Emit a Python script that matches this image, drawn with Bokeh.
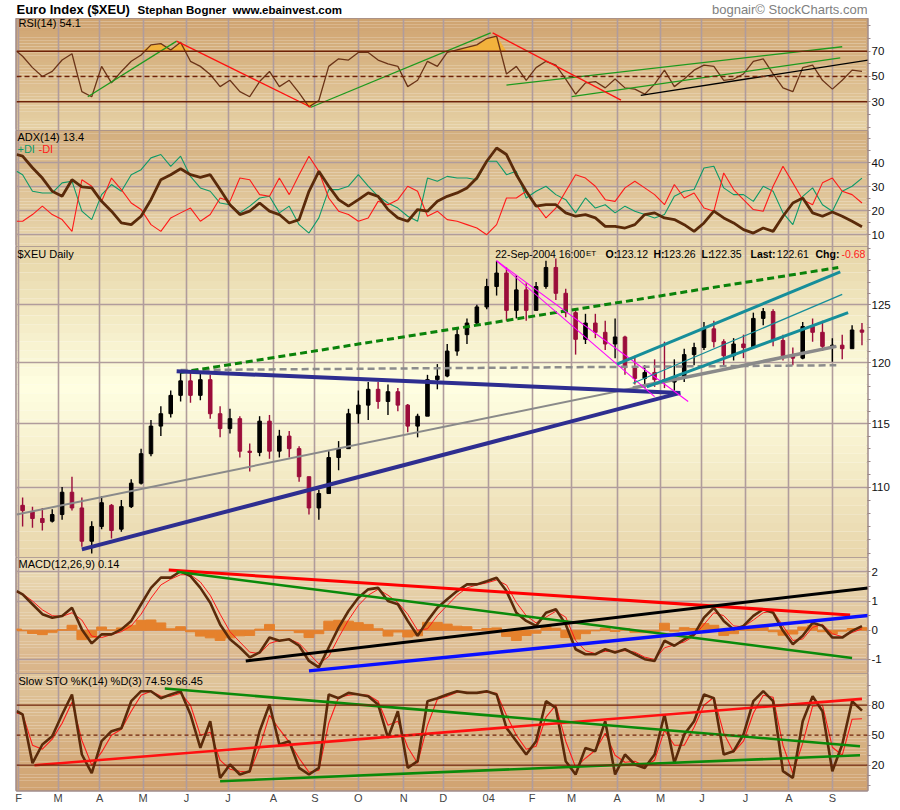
import numpy as np
import pandas as pd
from bokeh.plotting import figure
from bokeh.layouts import column
from bokeh.models import Range1d, FixedTicker, Span, BoxAnnotation, Label
from bokeh.embed import file_html
from bokeh.resources import INLINE

# ---------------- data (weekly samples) ----------------
START = "2003-01-31"
week_dates = list(pd.date_range("2003-02-05", periods=86, freq="7D"))   # Wednesdays
line_dates = [pd.Timestamp(START)] + week_dates

month_starts = list(pd.date_range("2003-02-01", "2004-09-30", freq="BMS"))
month_labels = ["F", "M", "A", "M", "J", "J", "A", "S", "O", "N", "D", "04",
                "F", "M", "A", "M", "J", "J", "A", "S"]

price_open = [108.6, 108.1, 107.6, 107.4, 107.9, 109.6, 108.4, 105.9, 107.0, 108.6,
              106.8, 108.5, 110.3, 112.6, 114.8, 115.8, 117.3, 118.5, 117.3, 118.6,
              115.8, 114.6, 115.4, 112.8, 112.7, 115.2, 112.8, 114.0, 113.0, 110.8,
              108.4, 109.5, 112.3, 113.0, 115.8, 116.5, 117.8, 116.8, 117.6, 116.5,
              114.8, 115.6, 118.6, 118.9, 121.0, 122.4, 123.4, 124.8, 126.6, 127.8,
              124.5, 126.3, 124.5, 126.6, 128.3, 126.0, 124.3, 122.0, 123.4, 122.6,
              121.6, 122.2, 119.6, 118.7, 119.2, 118.6, 118.4, 118.8, 120.7, 121.3,
              122.9, 121.8, 120.6, 121.6, 121.3, 123.8, 124.4, 121.9, 120.6, 120.4,
              123.1, 122.6, 121.4, 121.5, 121.2, 122.8]
price_high = [109.2, 108.5, 108.4, 108.3, 110.0, 110.8, 109.2, 107.4, 109.3, 108.7,
              109.0, 110.6, 113.0, 115.3, 116.4, 117.7, 119.3, 119.2, 119.3, 119.0,
              116.4, 116.2, 115.6, 113.4, 115.6, 115.7, 114.5, 114.4, 113.2, 110.8,
              109.8, 112.8, 113.6, 116.2, 117.7, 118.4, 118.4, 118.2, 117.9, 116.6,
              115.8, 119.0, 119.9, 121.6, 122.9, 123.8, 125.0, 127.3, 128.9, 128.3,
              127.6, 126.9, 127.0, 128.9, 129.1, 126.4, 124.5, 124.2, 124.2, 123.6,
              123.8, 122.3, 120.6, 119.8, 120.3, 121.8, 120.3, 121.2, 121.7, 123.5,
              123.6, 122.0, 122.1, 122.4, 124.3, 124.7, 124.6, 122.4, 121.3, 123.5,
              123.8, 123.6, 122.1, 122.4, 123.2, 123.4]
price_low = [107.0, 106.9, 106.7, 107.3, 107.5, 108.2, 105.5, 105.0, 106.8, 106.1,
             106.6, 108.4, 110.2, 112.4, 114.0, 115.5, 116.8, 116.7, 116.9, 115.4,
             113.9, 114.2, 112.3, 111.2, 112.4, 112.2, 112.3, 112.3, 110.4, 107.9,
             107.5, 109.5, 111.3, 113.0, 115.0, 115.3, 116.2, 115.7, 116.0, 114.3,
             113.9, 115.8, 117.8, 118.8, 120.6, 121.6, 123.2, 124.6, 125.8, 123.6,
             123.8, 123.6, 124.6, 126.4, 125.4, 123.9, 120.7, 121.6, 122.1, 121.1,
             120.4, 119.0, 118.2, 117.9, 118.0, 117.9, 117.7, 118.4, 119.8, 121.1,
             121.3, 119.7, 120.2, 120.4, 121.7, 123.2, 121.4, 120.2, 119.8, 120.3,
             121.8, 121.0, 120.1, 120.3, 121.3, 121.5]
price_close = [108.2, 107.6, 107.3, 107.9, 109.6, 108.4, 105.9, 107.0, 108.8, 106.7,
               108.5, 110.3, 112.6, 114.8, 115.8, 117.3, 118.5, 117.3, 118.6, 115.8,
               114.6, 115.4, 112.8, 112.7, 115.2, 112.8, 114.0, 113.0, 110.8, 108.4,
               109.5, 112.3, 113.0, 115.8, 116.5, 117.8, 116.8, 117.6, 116.5, 114.8,
               115.6, 118.6, 118.9, 121.0, 122.4, 123.4, 124.8, 126.6, 127.8, 124.5,
               126.3, 124.5, 126.6, 128.3, 126.0, 124.3, 122.0, 123.4, 122.6, 121.6,
               122.2, 119.6, 118.7, 119.2, 118.6, 118.4, 118.8, 120.7, 121.3, 122.9,
               121.8, 120.6, 121.6, 121.3, 123.8, 124.4, 121.9, 120.6, 120.4, 123.1,
               122.6, 121.4, 121.5, 121.2, 122.8, 122.61]

rsi = [70, 66, 57, 50, 54, 63, 68, 38, 34, 58, 45, 54, 62, 67, 75, 76, 71, 77, 62, 58,
       51.6, 42, 47, 38, 34, 46, 54, 42, 47, 37, 26, 31, 58, 64, 63, 69, 69, 63, 60, 58,
       42, 47, 62, 58, 69, 71, 73, 75, 80, 82, 52, 58, 47, 57, 62, 59, 48, 36, 45, 46,
       41, 48, 41, 40, 36, 44, 55, 42, 48, 55, 59, 58, 47, 48, 52, 62, 64, 52, 41, 38,
       57, 59, 47, 40, 47, 55, 54.1]

adx = [43.5, 42.8, 38, 33.7, 28.2, 26.1, 33, 30, 29.6, 24, 19.9, 15, 14.3, 17.8, 24.7,
       33, 35.1, 37.6, 35.1, 34, 35.1, 28.9, 22.6, 18.5, 19.9, 23.3, 19.9, 18.5, 15, 16.4,
       28.2, 36.5, 30.3, 24.7, 22, 24.7, 27.5, 26.1, 20.6, 17.1, 15.7, 20.6, 19.9, 24,
       26.1, 27.5, 29.6, 33.7, 40.7, 46.2, 43.5, 35.1, 28.2, 22, 22.6, 22.6, 19.2, 17.8,
       18.5, 17.1, 13.6, 13.6, 12.9, 14.3, 18.5, 19.2, 17.1, 16.4, 14.3, 11.5, 15, 19.9,
       17.1, 15, 12.2, 10.8, 12.9, 11.5, 17.8, 23.3, 25.4, 19.2, 17.8, 19.6, 17.8, 15.7,
       13.4]
plus_di = [36.5, 35.1, 28.2, 27.5, 27.5, 31.7, 32.4, 19.9, 16.4, 26.8, 31, 28.2, 35.1,
           37.2, 42.1, 43.5, 38.6, 42.8, 34.4, 29.6, 28.2, 23.3, 22.6, 19.2, 22, 25.4,
           26.1, 19.2, 22, 14.3, 10.8, 17.1, 28.9, 28.9, 30.3, 35.1, 30.3, 26.1, 23.3,
           21.2, 17.8, 15.7, 33.7, 32.4, 34.4, 33.7, 33.7, 33, 40.7, 40.7, 35.1, 36.5,
           25.4, 28.2, 30.3, 26.8, 24.7, 19.2, 25.4, 21.2, 22.6, 19.2, 22, 19.9, 18.5,
           17.1, 18.5, 26.1, 28.2, 28.9, 37.9, 38.6, 29.6, 26.8, 26.8, 24, 30.3, 28.2,
           19.2, 14.3, 26.1, 29.6, 22.6, 19.9, 28.2, 30.3, 33.7]
minus_di = [15.7, 15.7, 18.5, 22, 18.5, 16.4, 11.5, 33, 30.3, 24, 33.7, 28.9, 23.3, 20.6,
            14.3, 11.5, 17.1, 19.2, 21.2, 15.7, 18.5, 25.4, 24, 33.7, 33, 26.8, 26.1,
            33.7, 26.8, 35.1, 42.8, 36.5, 25.4, 19.9, 18.5, 15.7, 17.1, 24, 22.6, 24.7,
            30.3, 28.2, 17.8, 19.9, 16.4, 15.7, 14.3, 12.9, 10.1, 14.3, 25.4, 25.4, 28.2,
            22.6, 17.1, 21.2, 28.2, 35.1, 33.7, 30.3, 24.7, 24, 29.6, 32.4, 29.6, 26.8,
            22.6, 31, 25.4, 27.5, 21.2, 19.9, 35.8, 28.9, 24.7, 20.6, 19.9, 30.3, 38.6,
            31.7, 24.7, 22.6, 31.7, 33.7, 28.2, 26.8, 23.3]

macd = [1.34, 1.23, 0.89, 0.55, 0.43, 0.49, 0.77, 0.03, -0.45, -0.14, -0.14, 0.03, 0.32,
        0.89, 1.45, 1.8, 1.8, 2.02, 1.85, 1.45, 0.94, 0.2, -0.31, -0.59, -0.93, -0.76,
        -0.25, -0.36, -0.31, -0.53, -1.05, -1.27, -0.59, 0.09, 0.66, 1.11, 1.4, 1.45, 1.0,
        0.89, 0.32, -0.19, 0.32, 0.77, 1.06, 1.34, 1.57, 1.57, 1.68, 1.8, 1.34, 0.6, 0.32,
        0.15, 0.6, 0.72, 0.2, -0.65, -0.82, -0.82, -0.65, -0.76, -0.65, -0.82, -0.99,
        -1.05, -0.36, -0.53, -0.31, -0.14, 0.43, 0.77, 0.32, 0.03, 0.15, 0.49, 0.72, 0.6,
        -0.02, -0.48, -0.19, 0.26, 0.15, -0.25, -0.25, -0.02, 0.14]
macd_signal = [1.3, 1.25, 1.0, 0.7, 0.5, 0.47, 0.6, 0.35, -0.2, -0.25, -0.15, -0.05, 0.15,
               0.55, 1.1, 1.55, 1.75, 1.9, 1.9, 1.65, 1.2, 0.55, -0.05, -0.4, -0.75, -0.8,
               -0.45, -0.35, -0.3, -0.45, -0.8, -1.15, -0.9, -0.25, 0.35, 0.85, 1.2, 1.4,
               1.2, 0.95, 0.55, 0.0, 0.05, 0.5, 0.85, 1.2, 1.45, 1.55, 1.62, 1.72, 1.55,
               0.95, 0.5, 0.25, 0.45, 0.65, 0.45, -0.35, -0.7, -0.8, -0.72, -0.72, -0.7,
               -0.75, -0.92, -1.0, -0.6, -0.5, -0.4, -0.2, 0.2, 0.6, 0.5, 0.15, 0.12, 0.35,
               0.6, 0.65, 0.15, -0.35, -0.3, 0.1, 0.2, -0.12, -0.22, -0.08, 0.05]

sto_k = [74, 70.7, 22, 40.7, 49, 70.7, 90.7, 30.7, 12, 44, 54, 57, 84, 94, 94, 87, 90.7,
         94, 70.7, 37.3, 64, 7.3, 20.7, 10.7, 14, 54, 80.7, 40.7, 44, 17.3, 10.7, 17.3,
         90.7, 87, 92.3, 90.7, 89, 80.7, 47.3, 74, 17.3, 24, 84, 87, 90.7, 94, 92.3, 92.3,
         94, 90.7, 57.3, 44, 30.7, 44, 84, 77.3, 24, 10.7, 37.3, 34, 64, 10.7, 30.7, 20.7,
         17.3, 30.7, 70.7, 22.3, 50.7, 64, 90.7, 87, 30.7, 34, 50.7, 84, 94, 84, 14, 7.3,
         64, 89, 74, 14, 40.7, 84, 74.59]
sto_d = [72, 71, 40, 36, 46, 62, 83, 45, 20, 33, 50, 56, 74, 90, 94, 89, 89, 92, 80, 50,
         53, 25, 16, 14, 13, 38, 70, 56, 43, 27, 13, 15, 62, 88, 90, 91, 90, 84, 60, 64,
         38, 22, 60, 86, 89, 93, 93, 92, 93, 92, 70, 50, 36, 39, 68, 80, 44, 18, 27, 35,
         52, 30, 23, 24, 19, 25, 55, 40, 40, 58, 80, 88, 52, 33, 44, 72, 90, 88, 40, 12,
         42, 79, 80, 38, 30, 66, 66.45]

# hand-drawn trend lines: (start date, start value, end date, end value)
rsi_green_tl = [("2003-03-24", 34, "2003-05-26", 78), ("2003-08-28", 25.7, "2004-01-02", 84.5),
                ("2004-01-14", 43.2, "2004-09-08", 73.5), ("2004-03-01", 34, "2004-09-07", 64.8)]
rsi_red_tl = [("2003-05-26", 78, "2003-08-28", 25.7), ("2004-01-05", 84.5, "2004-04-05", 31.3)]
rsi_black_tl = [("2004-04-19", 35, "2004-09-28", 63.2)]

price_navy_tl = [("2003-03-19", 105.3, "2004-05-17", 117.5), ("2003-05-26", 119.3, "2004-05-17", 117.5)]
price_gray_thin_tl = [("2003-01-31", 107.9, "2004-09-03", 121.4)]
price_gray_thick_tl = [("2004-04-13", 117.9, "2004-09-03", 121.4)]
price_gray_dash_tl = [("2003-05-28", 119.4, "2004-09-03", 119.8)]
price_green_dash_tl = [("2003-05-28", 119.2, "2004-09-06", 128.3)]
price_magenta_tl = [("2004-01-07", 128.9, "2004-05-21", 116.8), ("2004-01-07", 128.9, "2004-04-28", 117.2)]
price_teal_thick_tl = [("2004-04-01", 119.9, "2004-09-07", 127.9), ("2004-04-22", 118.0, "2004-09-13", 124.3)]
price_teal_thin_tl = [("2004-04-13", 118.3, "2004-09-08", 125.9)]

macd_red_tl = [("2003-05-20", 2.06, "2004-09-14", 0.52)]
macd_green_tl = [("2003-05-26", 2.0, "2004-09-15", -0.95)]
macd_black_tl = [("2003-07-14", -1.05, "2004-09-27", 1.45)]
macd_blue_tl = [("2003-08-27", -1.39, "2004-09-29", 0.52)]

sto_red_tl = [("2003-02-13", 20, "2004-09-22", 86.3)]
sto_green_tl = [("2003-05-16", 96.7, "2004-09-21", 39), ("2003-06-25", 4, "2004-09-21", 30)]

header_texts = ["Euro Index ($XEU)", "Stephan Bogner", "www.ebainvest.com"]
credit_text = "bognair\u00a9 StockCharts.com"

# ---------------- helpers ----------------
FONT = "Liberation Sans"
GRID = "#B09C9C"
BORDER = "#A08C8C"
BROWN = "#5A2A0A"


def bd(dates):
    d = np.array([np.datetime64(pd.Timestamp(t).date()) for t in dates], dtype="datetime64[D]")
    return np.busday_count(np.datetime64(START), d).astype(float)


lx = bd(line_dates)
bx = lx[1:]
month_x = bd(month_starts)
xr = Range1d(-0.09, 430.8)


def hex2rgb(h):
    return tuple(int(h[i:i + 2], 16) for i in (1, 3, 5))


def mix(stops, f):
    for (f0, c0), (f1, c1) in zip(stops[:-1], stops[1:]):
        if f0 <= f <= f1:
            t = 0 if f1 == f0 else (f - f0) / (f1 - f0)
            a, b = hex2rgb(c0), hex2rgb(c1)
            return "#%02x%02x%02x" % tuple(int(round(a[k] + (b[k] - a[k]) * t)) for k in range(3))
    return stops[-1][1]


def gradient(p, lo, hi, stops, n=36, log=False):
    edges = np.geomspace(hi, lo, n + 1) if log else np.linspace(hi, lo, n + 1)
    for k in range(n):
        c = mix(stops, (k + 0.5) / n)
        p.add_layout(BoxAnnotation(top=edges[k], bottom=edges[k + 1], fill_color=c, fill_alpha=1,
                                   line_alpha=0, level="image"))


def panel(h, lo, hi, yticks, minor, stops, top=0, bottom=0, log=False, ygrid=True):
    p = figure(frame_width=851, frame_height=h, x_range=xr, y_range=Range1d(lo, hi),
               y_axis_type="log" if log else "linear", y_axis_location="right",
               output_backend="svg", toolbar_location=None,
               min_border_left=16, min_border_right=26, min_border_top=top, min_border_bottom=bottom)
    p.outline_line_color = BORDER
    p.outline_line_width = 2.5
    p.background_fill_color = "white"
    p.border_fill_color = "white"
    gradient(p, lo, hi, stops, log=log)
    p.xgrid.ticker = FixedTicker(ticks=list(month_x))
    p.xgrid.grid_line_color = GRID
    p.xgrid.grid_line_width = 1.6
    if ygrid:
        p.ygrid.ticker = FixedTicker(ticks=yticks)
        p.ygrid.grid_line_color = GRID
        p.ygrid.grid_line_width = 1.6
    else:
        p.ygrid.grid_line_color = None
    p.xaxis.visible = False
    ax = p.yaxis[0]
    ax.ticker = FixedTicker(ticks=yticks, minor_ticks=minor)
    ax.major_label_overrides = {t: ("%g" % t) for t in yticks}
    ax.axis_line_color = None
    ax.major_tick_out = 3
    ax.major_tick_in = 0
    ax.minor_tick_out = 3
    ax.minor_tick_in = 0
    ax.major_tick_line_color = "#9A8888"
    ax.minor_tick_line_color = "#9A8888"
    ax.major_label_standoff = 1
    ax.major_label_text_font = FONT
    ax.major_label_text_font_size = "11.5px"
    ax.major_label_text_color = "#111111"
    return p


def tlines(p, lines, color, width, dash="solid"):
    if not lines:
        return
    x0 = bd([l[0] for l in lines])
    x1 = bd([l[2] for l in lines])
    p.segment(x0=x0, y0=[l[1] for l in lines], x1=x1, y1=[l[3] for l in lines],
              line_color=color, line_width=width, line_dash=dash)


def label(p, x, ydown, text, size="11px", color="black", bold=False, align="left"):
    p.add_layout(Label(x=x, y=p.frame_height - ydown, x_units="screen", y_units="screen", text=text,
                       text_font=FONT, text_font_size=size, text_color=color,
                       text_font_style="bold" if bold else "normal",
                       text_baseline="middle", text_align=align))


# ---------------- header strip ----------------
p0 = figure(frame_width=851, frame_height=18, x_range=Range1d(0, 851), y_range=Range1d(0, 18),
            output_backend="svg", toolbar_location=None, min_border_left=16, min_border_right=26,
            min_border_top=0, min_border_bottom=0)
p0.axis.visible = False
p0.grid.visible = False
p0.outline_line_color = None
p0.background_fill_color = "white"
p0.border_fill_color = "white"
for x, t, size, bold, color, align in (
        (0, header_texts[0], "13px", "bold", "black", "left"),
        (121, header_texts[1], "11.5px", "bold", "black", "left"),
        (216, header_texts[2], "11.5px", "bold", "black", "left"),
        (851, credit_text, "13px", "normal", "#808080", "right")):
    p0.add_layout(Label(x=x, y=9, x_units="screen", y_units="screen", text=t, text_font=FONT,
                        text_font_size=size, text_font_style=bold, text_color=color,
                        text_align=align, text_baseline="middle"))

# ---------------- RSI ----------------
p1 = panel(112, 7.3, 95.85, [30, 50, 70], [10, 20, 40, 60, 80, 90],
           [(0, "#CFA370"), (1, "#E6D1A5")], ygrid=False)
r = np.array(rsi, dtype=float)
p1.varea(x=lx, y1=np.full(len(r), 70.0), y2=np.maximum(r, 70), fill_color="#F2B23C")
p1.varea(x=lx, y1=np.minimum(r, 30), y2=np.full(len(r), 30.0), fill_color="#F2B23C")
for v, d in ((70, "solid"), (30, "solid"), (50, "dashed")):
    p1.add_layout(Span(location=v, dimension="width", line_color="#6E2208", line_width=1.4,
                       line_dash="5 3" if d == "dashed" else "solid"))
p1.line(lx, r, line_color="#6B3418", line_width=1.3)
tlines(p1, rsi_green_tl, "#1E9A1E", 1.3)
tlines(p1, rsi_red_tl, "#FF1010", 1.3)
tlines(p1, rsi_black_tl, "#000000", 1.3)
label(p1, 2, 4.5, "RSI(14) 54.1")

# ---------------- ADX ----------------
p2 = panel(116, 5.2, 53.5, [10, 20, 30, 40], [5, 15, 25, 35, 45, 50],
           [(0, "#D3AE7E"), (1, "#E9D7AE")])
p2.line(lx, plus_di, line_color="#0E9A68", line_width=1.1)
p2.line(lx, minus_di, line_color="#FF1A1A", line_width=1.1)
p2.line(lx, adx, line_color=BROWN, line_width=2.8)
label(p2, 1, 6.5, "ADX(14) 13.4")
label(p2, 1, 18, "+DI", color="#0E9A68")
label(p2, 22, 18, "-DI", color="#FF1A1A")

# ---------------- Price ----------------
p3 = panel(311, 104.7, 130.2, [110, 115, 120, 125], list(range(105, 131)),
           [(0, "#E6D4A6"), (0.45, "#FFFFE2"), (1, "#E8D6AB")], log=True)
O = np.array(price_open)
H = np.array(price_high)
L = np.array(price_low)
C = np.array(price_close)
up = C >= O
cols = np.where(up, "#000000", "#9B0D3B")
p3.segment(x0=bx, y0=L, x1=bx, y1=H, line_color=cols, line_width=1.4)
p3.vbar(x=bx, top=np.maximum(O, C), bottom=np.minimum(O, C), width=1.8, fill_color=cols,
        line_color=cols)
tlines(p3, price_gray_thin_tl, "#8A8A8A", 2)
tlines(p3, price_gray_thick_tl, "#8A8A8A", 3.5)
tlines(p3, price_gray_dash_tl, "#8C8C8C", 2.5, "7 4")
tlines(p3, price_green_dash_tl, "#0A820A", 3, "7 4")
tlines(p3, price_navy_tl, "#2E2E90", 4)
tlines(p3, price_magenta_tl, "#FF00FF", 1.1)
tlines(p3, price_teal_thick_tl, "#168E9A", 3)
tlines(p3, price_teal_thin_tl, "#168E9A", 1.3)
label(p3, 1, 7, "$XEU Daily")
info = [(478.7, "22-Sep-2004 16:00", False, "black", "10.5px"), (569.5, "ET", False, "black", "8px"),
        (589, "O:", True, "black", "10.5px"), (599.5, "123.12", False, "black", "10.5px"),
        (637, "H:", True, "black", "10.5px"), (647, "123.26", False, "black", "10.5px"),
        (685, "L:", True, "black", "10.5px"), (693, "122.35", False, "black", "10.5px"),
        (734, "Last:", True, "black", "10.5px"), (760.3, "122.61", False, "black", "10.5px"),
        (799, "Chg:", True, "black", "10.5px"), (825, "-0.68", False, "#FF2020", "10.5px")]
for x, t, b, c, s in info:
    label(p3, x, 7.3, t, size=s, color=c, bold=b)

# ---------------- MACD ----------------
p4 = panel(116, -1.48, 2.49, [-1, 0, 1, 2], [-1.5, -0.5, 0.5, 1.5],
           [(0, "#EBDCB6"), (1, "#D9B388")])
hist = np.array(macd) - np.array(macd_signal)
p4.vbar(x=lx, top=hist, bottom=0, width=5, fill_color="#E5812C", line_color="#E5812C")
p4.line(lx, macd_signal, line_color="#FF1A1A", line_width=1)
p4.line(lx, macd, line_color=BROWN, line_width=2.6)
tlines(p4, macd_red_tl, "#FF0000", 3)
tlines(p4, macd_green_tl, "#0A8A0A", 2.5)
tlines(p4, macd_black_tl, "#000000", 3)
tlines(p4, macd_blue_tl, "#0A10FF", 3.5)
label(p4, 2, 6.3, "MACD(12,26,9) 0.14")

# ---------------- Slow STO ----------------
p5 = panel(117, -5.3, 111.7, [20, 50, 80], [0, 10, 30, 40, 60, 70, 90, 100],
           [(0, "#E0C69C"), (1, "#D0A270")], bottom=12, ygrid=False)
for v, d in ((80, "solid"), (20, "solid"), (50, "dashed")):
    p5.add_layout(Span(location=v, dimension="width", line_color="#6E2208", line_width=1.2,
                       line_dash="4 3" if d == "dashed" else "solid"))
p5.line(lx, sto_d, line_color="#FF1A1A", line_width=1.1)
p5.line(lx, sto_k, line_color=BROWN, line_width=2.6)
tlines(p5, sto_red_tl, "#FF1010", 2.6)
tlines(p5, sto_green_tl, "#0A8A0A", 2.6)
label(p5, 2, 7, "Slow STO %K(14) %D(3) 74.59 66.45")
xa = p5.xaxis[0]
xa.visible = True
xa.ticker = FixedTicker(ticks=list(month_x))
xa.major_label_overrides = {float(x): l for x, l in zip(month_x, month_labels)}
xa.axis_line_color = None
xa.major_tick_out = 0
xa.major_tick_in = 0
xa.minor_tick_out = 0
xa.minor_tick_in = 0
xa.major_label_standoff = 1
xa.major_label_text_font = FONT
xa.major_label_text_font_size = "11px"

layout = column(p0, p1, p2, p3, p4, p5, spacing=0)
open("out.html", "w").write(file_html(layout, INLINE))
